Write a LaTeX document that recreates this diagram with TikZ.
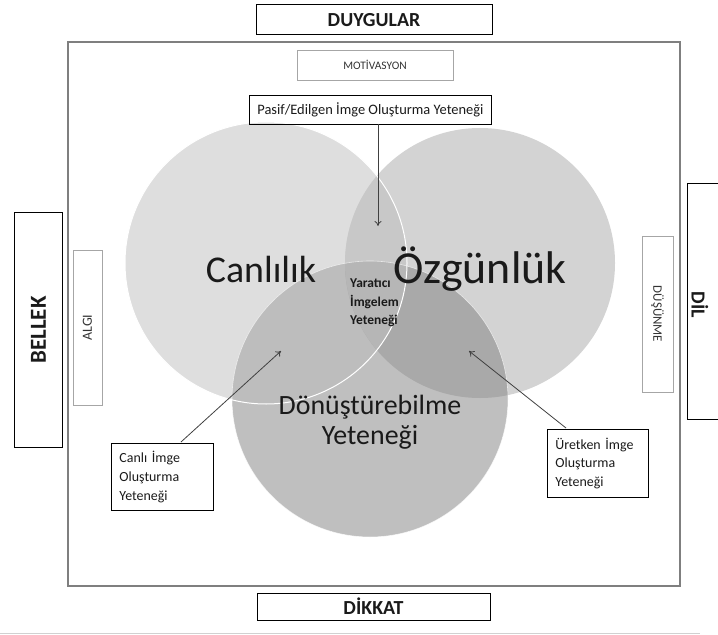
\documentclass[tikz,border=0pt]{standalone}
\usepackage{fontspec}
\setmainfont{Carlito}
\usetikzlibrary{arrows.meta}

\definecolor{frameGray}{HTML}{7F7F7F}
\definecolor{softGray}{HTML}{A6A6A6}
\definecolor{fillC}{HTML}{DEDEDE}
\definecolor{fillO}{HTML}{D3D3D3}
\definecolor{fillCO}{HTML}{C8C8C8}
\definecolor{fillD}{HTML}{BFBFBF}
\definecolor{fillCD}{HTML}{BDBDBD}
\definecolor{fillOD}{HTML}{A9A9A9}
\definecolor{fillCOD}{HTML}{B6B6B6}
\definecolor{inkDark}{HTML}{1A1A1A}

\newcommand{\fsz}[2]{\fontsize{#1}{#2}\selectfont}

\tikzset{
  x=1bp, y=-1bp,
  headbox/.style={draw=black, line width=1bp, inner sep=0pt, font=\bfseries\fsz{20}{24}, text=inkDark},
  softbox/.style={draw=softGray, line width=0.9bp, inner sep=0pt, text=black!80},
  notebox/.style={draw=black, line width=0.9bp, inner sep=0pt, text=inkDark},
  tagbox/.style={draw=black, line width=0.9bp, inner xsep=8bp, inner ysep=0pt, align=left,
                 font=\fsz{14}{19}, text=inkDark},
  pointer/.style={draw=black!75, line width=0.8bp, -{To[length=5bp,width=7bp]}},
}

\begin{document}
\begin{tikzpicture}
\useasboundingbox (0,0) rectangle (718,635);

% circles and their overlaps
\def\circC{(266,263) circle[radius=141]}
\def\circO{(480,263) circle[radius=135]}
\def\circD{(370,399) circle[radius=138]}
\fill[fillC] \circC;
\fill[fillO] \circO;
\begin{scope}\clip \circC; \fill[fillCO] \circO;\end{scope}
\fill[fillD] \circD;
\begin{scope}\clip \circD; \fill[fillCD] \circC;\end{scope}
\begin{scope}\clip \circD; \fill[fillOD] \circO;\end{scope}
\begin{scope}\clip \circD; \clip \circC; \fill[fillCOD] \circO;\end{scope}
\draw[white, line width=0.6bp, opacity=0.7] \circD;
\draw[white, line width=1bp] \circC;

% outer frame
\draw[frameGray, line width=1.6bp] (68,42) rectangle (680,586);
\draw[black!18, line width=0.8bp] (0,633) -- (700,633);

% surrounding headings
\node[headbox, minimum width=236bp, minimum height=30bp] (duygular) at (374,20) {DUYGULAR};
\node[headbox, minimum width=233bp, minimum height=27bp] (dikkat) at (373.5,606.5) {DİKKAT};
\node[headbox, rotate=90, minimum width=234bp, minimum height=47bp, font=\bfseries\fsz{23}{27}] (bellek) at (38.5,330) {BELLEK};
\node[draw=black, line width=1bp, minimum width=60bp, minimum height=235bp, inner sep=0pt] (dilbox) at (717,301.5) {};
\node[rotate=-90, font=\bfseries\fsz{20}{24}, text=inkDark, inner sep=0pt] (dil) at (700,305) {DİL};

% inner side boxes
\node[softbox, minimum width=156bp, minimum height=30bp, font=\fsz{11.5}{14}] (motivasyon) at (375,65) {MOTİVASYON};
\node[softbox, rotate=90, minimum width=155bp, minimum height=29bp, font=\fsz{14}{17}] (algi) at (87.5,327.5) {ALGI};
\node[softbox, rotate=-90, minimum width=156bp, minimum height=31bp, font=\fsz{13}{16}] (dusunme) at (657.5,314) {DÜŞÜNME};

% circle labels
\node[anchor=base, font=\fsz{38}{44}, text=inkDark, inner sep=0pt] (canlilik) at (261,282) {Canlılık};
\node[anchor=base, font=\fsz{46}{50}, text=inkDark, inner sep=0pt] (ozgunluk) at (480,283) {Özgünlük};
\node[anchor=north, align=center, font=\fsz{28}{30}, text=inkDark, inner sep=0pt] (donustur) at (370,395) {Dönüştürebilme\\Yeteneği};
\node[anchor=north west, align=left, font=\bfseries\fsz{13.5}{18.5}, text=inkDark, inner sep=0pt] (yaratici) at (350,279) {Yaratıcı\\İmgelem\\Yeteneği};

% annotation boxes
\node[notebox, anchor=west, minimum width=242bp, minimum height=29bp, inner xsep=4bp, font=\fsz{14.5}{17}] (pasif) at (249,109.5) {Pasif/Edilgen İmge Oluşturma Yeteneği};
\node[tagbox, anchor=north west, text width=86bp, minimum height=67bp] (canli) at (111,443) {Canlı İmge\\Oluşturma\\Yeteneği};
\node[tagbox, anchor=north west, text width=85bp, minimum height=68bp] (uretken) at (547,429) {Üretken İmge\\Oluşturma\\Yeteneği};

% arrows
\coordinate (pasifFoot) at (378,124);
\coordinate (pasifTip) at (378,226);
\coordinate (canliFoot) at (181,442);
\coordinate (canliTip) at (281,351);
\coordinate (uretkenFoot) at (566,428);
\coordinate (uretkenTip) at (469,351);
\draw[pointer] (pasifFoot) -- (pasifTip);
\draw[pointer] (canliFoot) -- (canliTip);
\draw[pointer] (uretkenFoot) -- (uretkenTip);
\end{tikzpicture}
\end{document}
